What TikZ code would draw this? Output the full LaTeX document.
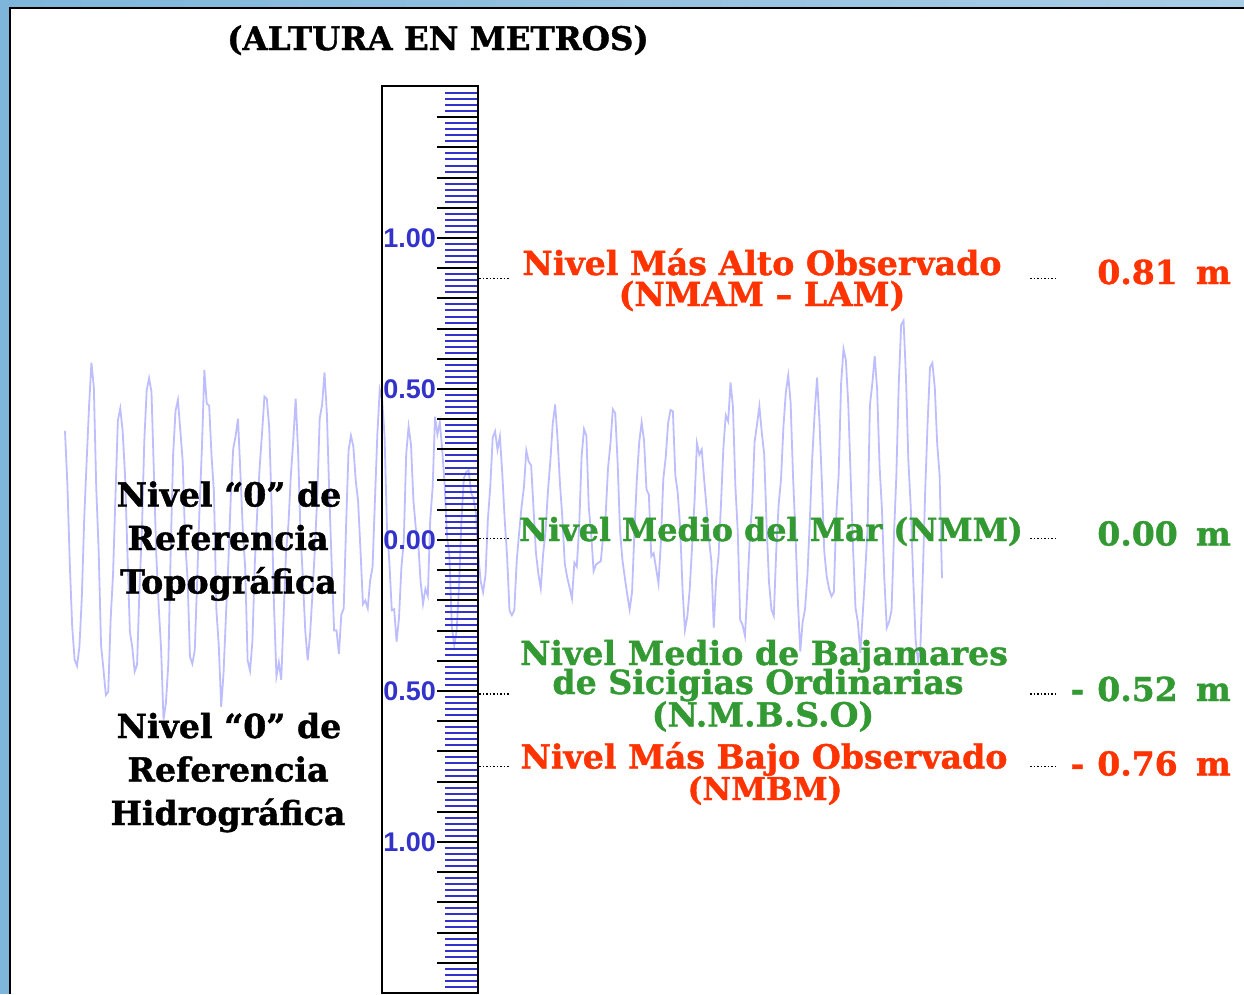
\documentclass[tikz,border=0pt]{standalone}
\usepackage{fontspec}
\setmainfont{DejaVu Serif}
\newfontfamily\heavy[FakeBold=1.2]{DejaVu Serif Bold}
\newfontfamily\numfont{Liberation Sans}
\definecolor{nred}{RGB}{255,51,0}
\definecolor{ngreen}{RGB}{51,153,51}
\definecolor{nblue}{RGB}{51,51,204}
\definecolor{wavec}{RGB}{190,190,255}
\definecolor{bordA}{RGB}{126,182,219}
\definecolor{bordB}{RGB}{170,205,230}
\begin{document}
\begin{tikzpicture}[x=1pt,y=-1pt,
  txt/.style={inner sep=0pt, anchor=base, font=\heavy\fontsize{33.2}{33}\selectfont},
  redtxt/.style={txt, text=nred},
  greentxt/.style={txt, text=ngreen},
  blacktxt/.style={txt, text=black},
  valtxt/.style={inner sep=0pt, anchor=base east, font=\heavy\fontsize{33}{33}\selectfont},
  scalelbl/.style={inner sep=0pt, anchor=east, text=nblue, font=\numfont\bfseries\fontsize{27}{27}\selectfont},
  majortick/.style={line width=2pt, black},
  minortick/.style={line width=2pt, nblue},
  dotline/.style={line width=1.5pt, dash pattern=on 1.5pt off 2pt, black},
  wave/.style={line width=1.8pt, wavec}]
\useasboundingbox (0,0) rectangle (1244,994);
\fill[white] (0,0) rectangle (1244,994);
% frame
\shade[left color=bordA, right color=bordB] (0,0) rectangle (1244,8);
\fill[bordA] (0,0) rectangle (9,994);
\draw[line width=2pt] (10,994) -- (10,8) -- (1244,8);

% tide wave
\pgfmathsetseed{11}
\draw[wave] plot[domain=65:942, samples=366]
  (\x, {545 - 0.055*(\x-65) - (110+40*cos(0.45*(\x-150)))*cos(12.41379*(\x-91)) - 22*cos(6.206897*(\x-91)+40) + 14*cos(26.3*(\x-400)) + 22*rand});

% ruler
\draw[line width=2pt] (382,86) rectangle (478,993);
\foreach \k in {-14,...,14}{
  \pgfmathsetmacro\yy{round(540+30.2*\k)}
  \draw[majortick] (437,\yy) -- (478,\yy);}
\foreach \j in {-74,...,74}{
  \pgfmathtruncatemacro\mm{mod(abs(\j),5)}
  \ifnum\mm=0\else
    \pgfmathsetmacro\yy{round(540+6.04*\j)}
    \draw[minortick] (445,\yy) -- (477,\yy);
  \fi}
\node[scalelbl] (s1) at (436,238) {1.00};
\node[scalelbl] (s2) at (436,389) {0.50};
\node[scalelbl] (s3) at (436,540) {0.00};
\node[scalelbl] (s4) at (436,691) {0.50};
\node[scalelbl] (s5) at (436,842) {1.00};

% title
\node[blacktxt, font=\heavy\fontsize{32.5}{31}\selectfont] (title) at (438,50) {(ALTURA EN METROS)};

% left labels
\node[blacktxt] (t1) at (229,506.5) {Nivel “0” de};
\node[blacktxt] (t2) at (228,550) {Referencia};
\node[blacktxt] (t3) at (228.5,593.5) {Topográfica};
\node[blacktxt] (h1) at (229,738) {Nivel “0” de};
\node[blacktxt] (h2) at (228,781.5) {Referencia};
\node[blacktxt] (h3) at (228,825) {Hidrográfica};

% level names
\node[redtxt] (a1) at (762,275) {Nivel Más Alto Observado};
\node[redtxt] (a2) at (762,306) {(NMAM – LAM)};
\node[greentxt, font=\heavy\fontsize{31.8}{33}\selectfont] (m1) at (771,541) {Nivel Medio del Mar (NMM)};
\node[greentxt] (b1) at (764,665) {Nivel Medio de Bajamares};
\node[greentxt] (b2) at (758,694) {de Sicigias Ordinarias};
\node[greentxt] (b3) at (763,726.5) {(N.M.B.S.O)};
\node[redtxt] (c1) at (764,768.5) {Nivel Más Bajo Observado};
\node[redtxt, font=\heavy\fontsize{31.5}{33}\selectfont] (c2) at (765,800) {(NMBM)};

% values
\node[valtxt, text=nred] (v1) at (1231,284) {0.81\hspace{0.55em}m};
\node[valtxt, text=ngreen] (v2) at (1231,545.5) {0.00\hspace{0.55em}m};
\node[valtxt, text=ngreen] (v3) at (1231,701) {-\hspace{0.4em}0.52\hspace{0.55em}m};
\node[valtxt, text=nred] (v4) at (1231,775.5) {-\hspace{0.4em}0.76\hspace{0.55em}m};

% dotted leaders
\foreach \n/\y in {1/278.3,2/538.7,3/694,4/766.7}{
  \coordinate (L\n a) at (479,\y);
  \coordinate (L\n b) at (509,\y);
  \coordinate (R\n a) at (1030,\y);
  \coordinate (R\n b) at (1058,\y);
  \draw[dotline] (L\n a) -- (L\n b);
  \draw[dotline] (R\n a) -- (R\n b);
}
\end{tikzpicture}
\end{document}
